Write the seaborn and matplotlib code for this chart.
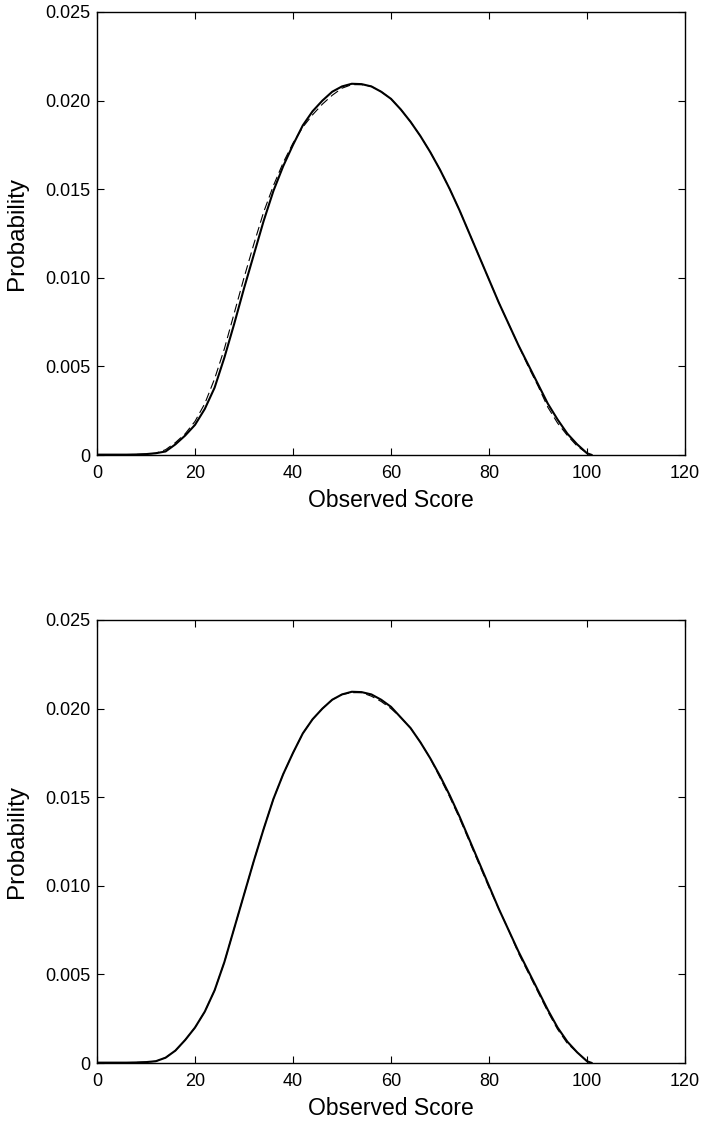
import numpy as np
import pandas as pd
import matplotlib
matplotlib.use("Agg")
import matplotlib.pyplot as plt
import seaborn as sns

# ---- data ----
scores = [0, 2, 4, 6, 8, 10, 12, 14, 16, 18, 20, 22, 24, 26, 28, 30, 32, 34, 36, 38,
          40, 42, 44, 46, 48, 50, 52, 54, 56, 58, 60, 62, 64, 66, 68, 70, 72, 74, 76, 78,
          80, 82, 84, 86, 88, 90, 92, 94, 96, 98, 100, 101]

top_solid = [0.00002, 0.00002, 0.00002, 0.00002, 0.00003, 0.00005, 0.0001, 0.0002, 0.0006, 0.0011,
             0.0017, 0.0026, 0.0038, 0.0055, 0.0074, 0.0094, 0.0113, 0.0132, 0.0149, 0.0163,
             0.0175, 0.0186, 0.0194, 0.0200, 0.0205, 0.0208, 0.02095, 0.02093, 0.0208, 0.0205,
             0.0201, 0.0195, 0.0188, 0.0180, 0.0171, 0.0161, 0.0150, 0.0138, 0.0125, 0.0112,
             0.0099, 0.0086, 0.0074, 0.0062, 0.0051, 0.0040, 0.0029, 0.0020, 0.0012, 0.0006,
             0.0001, 0.0]

top_dashed = [0.00002, 0.00002, 0.00002, 0.00002, 0.00003, 0.00005, 0.0001, 0.0003, 0.0007, 0.0012,
              0.0019, 0.0029, 0.0043, 0.0060, 0.0080, 0.0100, 0.0119, 0.0137, 0.0152, 0.0165,
              0.0176, 0.0185, 0.0192, 0.0198, 0.0203, 0.0207, 0.0209, 0.0209, 0.0208, 0.0205,
              0.0201, 0.0195, 0.0188, 0.0180, 0.0171, 0.0161, 0.0150, 0.0138, 0.0125, 0.0112,
              0.0099, 0.0086, 0.0074, 0.0062, 0.0050, 0.0039, 0.0027, 0.0018, 0.0011, 0.0005,
              0.0001, 0.0]

bottom_solid = [0.00002, 0.00002, 0.00002, 0.00002, 0.00003, 0.00005, 0.0001, 0.0003, 0.0007, 0.0013,
                0.0020, 0.0029, 0.0041, 0.0057, 0.0076, 0.0095, 0.0114, 0.0132, 0.0149, 0.0163,
                0.0175, 0.0186, 0.0194, 0.0200, 0.0205, 0.0208, 0.02095, 0.02093, 0.0208, 0.0205,
                0.0201, 0.0195, 0.0189, 0.0181, 0.0172, 0.0162, 0.0151, 0.0139, 0.0126, 0.0113,
                0.0100, 0.0087, 0.0075, 0.0063, 0.0052, 0.0041, 0.0030, 0.0020, 0.0012, 0.0006,
                0.0001, 0.0]

bottom_dashed = [0.00002, 0.00002, 0.00002, 0.00002, 0.00003, 0.00005, 0.0001, 0.0003, 0.0007, 0.0013,
                 0.0020, 0.0029, 0.0041, 0.0057, 0.0076, 0.0095, 0.0114, 0.0132, 0.0149, 0.0163,
                 0.0175, 0.0186, 0.0194, 0.0200, 0.0205, 0.0208, 0.0209, 0.0209, 0.0207, 0.0204,
                 0.0200, 0.0195, 0.0189, 0.0181, 0.0172, 0.0161, 0.0150, 0.0138, 0.0125, 0.0112,
                 0.0099, 0.0087, 0.0075, 0.0062, 0.0051, 0.0040, 0.0029, 0.0019, 0.0011, 0.0006,
                 0.0001, 0.0]

x_ticks = [0, 20, 40, 60, 80, 100, 120]
y_ticks = [0, 0.005, 0.010, 0.015, 0.020, 0.025]
y_tick_labels = ["0", "0.005", "0.010", "0.015", "0.020", "0.025"]
x_label = "Observed Score"
y_label = "Probability"

# ---- style ----
sns.set_style("ticks")
plt.rcParams["font.family"] = ["Liberation Sans", "DejaVu Sans"]
plt.rcParams["text.color"] = "black"
plt.rcParams["axes.labelcolor"] = "black"
plt.rcParams["xtick.color"] = "black"
plt.rcParams["ytick.color"] = "black"
plt.rcParams["xtick.direction"] = "in"
plt.rcParams["ytick.direction"] = "in"

fig = plt.figure(figsize=(7.02, 11.21), dpi=100)
W, H = 702.0, 1121.0
ax_top = fig.add_axes([97 / W, (H - 455) / H, 588 / W, 443 / H])
ax_bot = fig.add_axes([97 / W, (H - 1063) / H, 588 / W, 443 / H])

for ax, solid, dashed in [(ax_top, top_solid, top_dashed), (ax_bot, bottom_solid, bottom_dashed)]:
    df = pd.DataFrame({"score": scores, "solid": solid, "dashed": dashed})
    sns.lineplot(data=df, x="score", y="dashed", ax=ax, color="black",
                 linewidth=0.8, linestyle=(0, (8, 4)), estimator=None, sort=False)
    sns.lineplot(data=df, x="score", y="solid", ax=ax, color="black",
                 linewidth=1.5, estimator=None, sort=False)
    ax.set_xlim(0, 120)
    ax.set_ylim(0, 0.025)
    ax.set_xticks(x_ticks)
    ax.set_xticklabels([str(t) for t in x_ticks])
    ax.set_yticks(y_ticks)
    ax.set_yticklabels(y_tick_labels)
    ax.tick_params(axis="both", which="both", direction="in", top=True, right=True,
                   length=5, width=0.8, labelsize=13, colors="black", labelcolor="black")
    ax.tick_params(axis="x", pad=7)
    ax.tick_params(axis="y", pad=4.5)
    for s in ax.spines.values():
        s.set_visible(True)
        s.set_linewidth(1.0)
        s.set_color("black")
    ax.set_xlabel(x_label, fontsize=16.5, color="black")
    ax.set_ylabel(y_label, fontsize=17.5, color="black")
    ax.xaxis.set_label_coords(0.5, -0.077)
    ax.yaxis.set_label_coords(-0.118, 0.5)

fig.savefig("out.png", dpi=100, facecolor="white")
